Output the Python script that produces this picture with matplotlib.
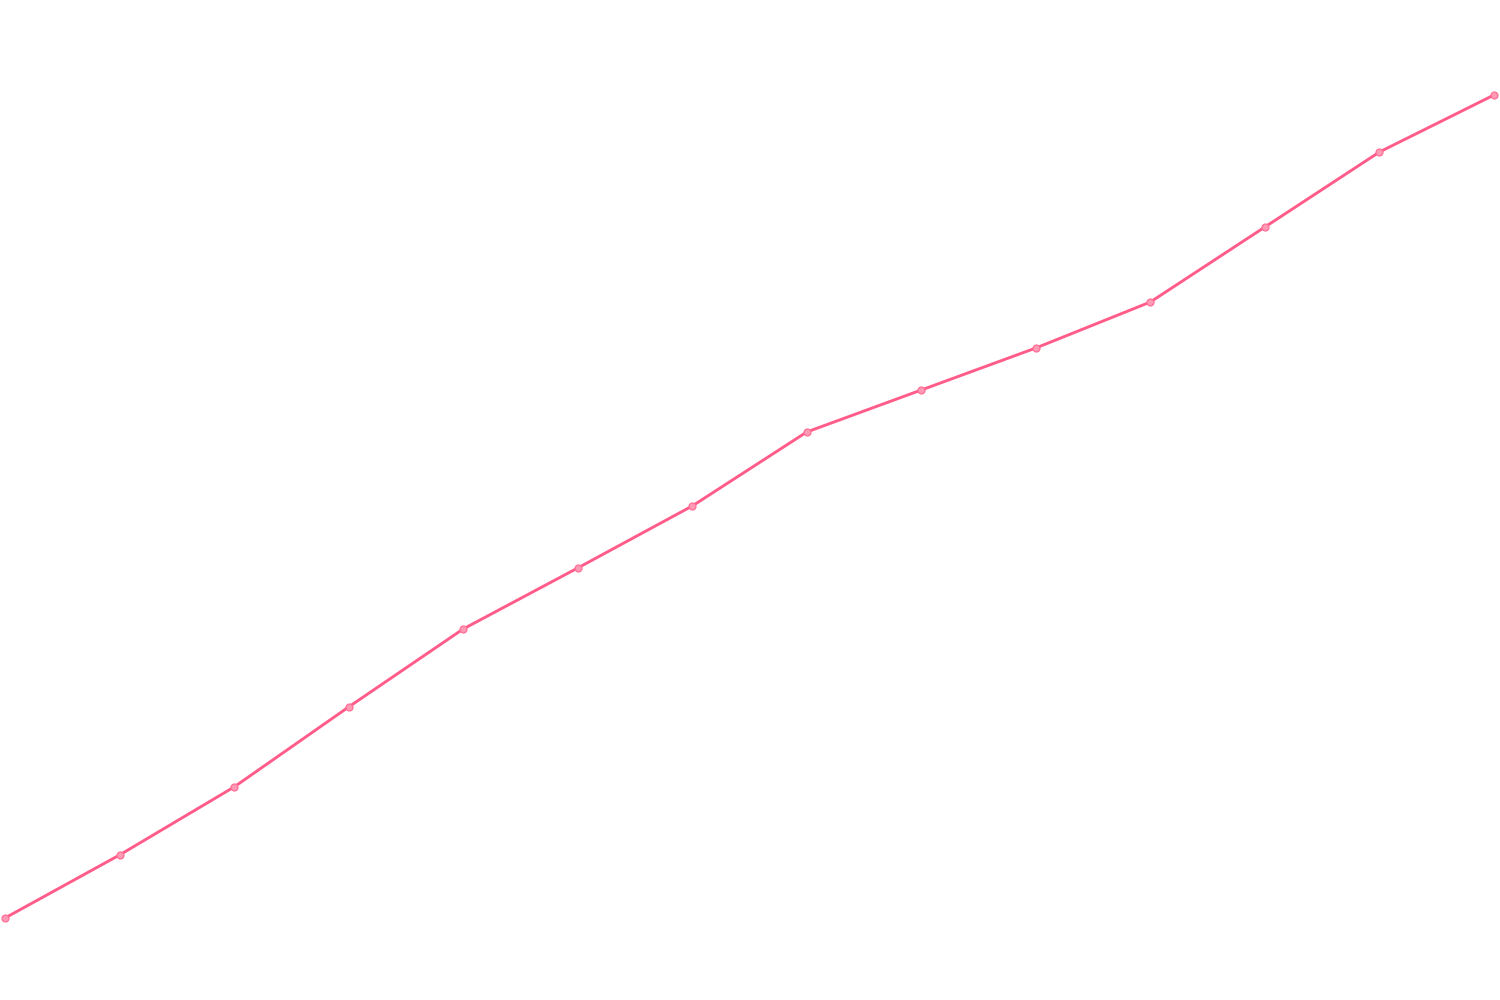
import matplotlib
matplotlib.use("Agg")
import matplotlib.pyplot as plt

categories = list(range(14))
values = [82, 145, 213, 293, 371, 432, 494, 568, 610, 652, 698, 773, 848, 905]

fig = plt.figure(figsize=(15, 10), dpi=100)
ax = fig.add_axes([0, 0, 1, 1])
ax.plot(categories, values, color="#ff5c8a", linewidth=2.1,
        marker="o", markersize=5, markerfacecolor="#ff9ab5",
        markeredgecolor="#ff6f97", markeredgewidth=0.9)
ax.set_xlim(-0.0437, 13.0524)
ax.set_ylim(0, 1000)
ax.axis("off")
fig.savefig("out.png", dpi=100, facecolor="white")
